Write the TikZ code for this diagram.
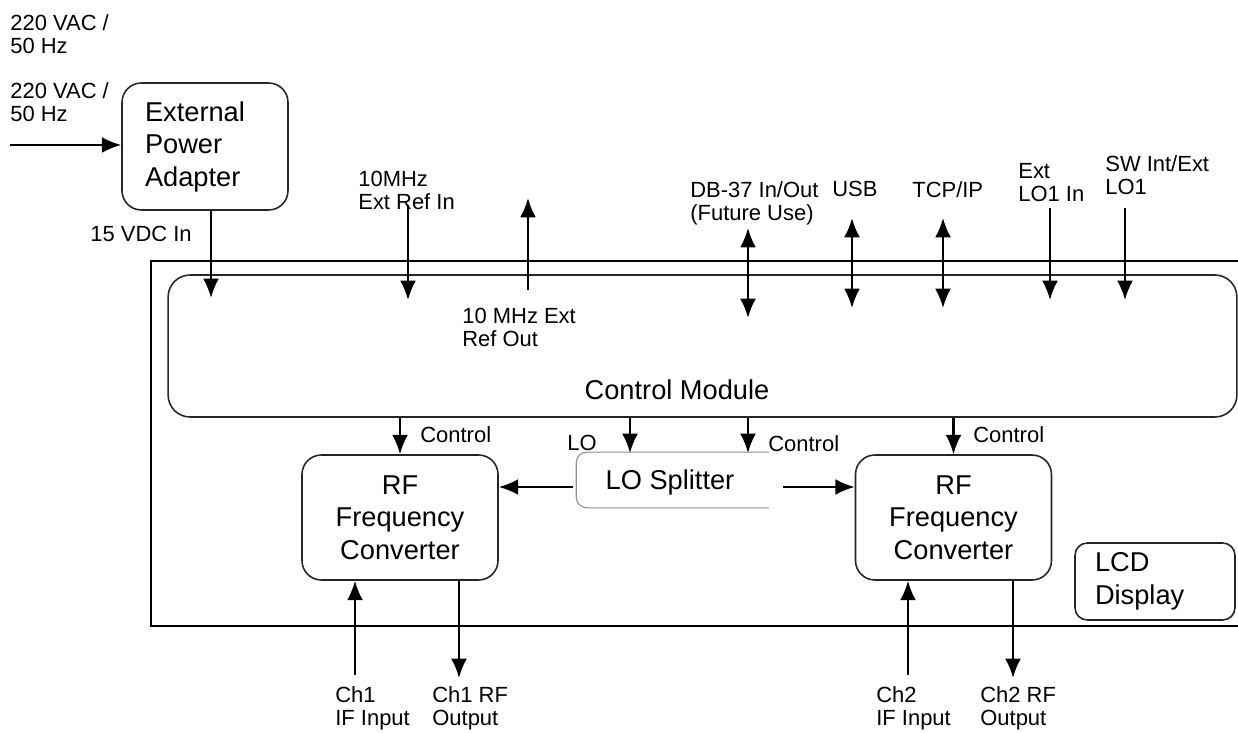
\documentclass[tikz,border=0pt]{standalone}
\usepackage{fontspec}
\setmainfont{Liberation Sans}
\usepackage{tikz}
\usetikzlibrary{arrows.meta,positioning}
\tikzstyle{block} = [rectangle, rounded corners=11pt, draw=black!85, line width=0.9pt, align=center, font=\fontsize{15.5}{18.5}\selectfont, inner sep=0pt]
\tikzstyle{textonly} = [draw=none, fill=none, anchor=north west, align=left, inner sep=0pt, font=\fontsize{12.5}{13}\selectfont]
\tikzstyle{tedge}  = [draw, line width=1.2pt, >={Latex[length=11pt,width=9pt]}, ->]
\tikzstyle{biedge} = [tedge, <->]
\tikzstyle{chassis} = [draw, line width=1.1pt]
\tikzstyle{openbox} = [draw=black!45, line width=0.6pt, rounded corners=6pt]

\begin{document}
\begin{tikzpicture}[x=0.02cm, y=-0.02cm]
\useasboundingbox (0,0) rectangle (1238,733);

% chassis =============================
\draw[chassis] (1238,261) -- (151,261) -- (151,626) -- (1238,626);

% blocks
\node[block, minimum width=3.32cm, minimum height=2.54cm, text width=2.4cm, inner xsep=0.46cm, align=left] (epa) at (205,146.5) {External\\Power\\Adapter};
\node[block, rounded corners=12.5pt, minimum width=21.38cm, minimum height=2.84cm] (cm) at (702.5,346) {};
\node[block, draw=none] (cmtext) at (677,390) {Control Module};
\node[block, minimum width=3.92cm, minimum height=2.5cm] (rf1) at (400,517.5) {RF\\Frequency\\Converter};
\node[block, minimum width=3.92cm, minimum height=2.5cm] (rf2) at (953.5,517.5) {RF\\Frequency\\Converter};
\node[block, draw=none, minimum width=3.82cm, minimum height=1.08cm] (lo) at (672.5,480) {};
\node[block, draw=none] (lotext) at (670,482) {LO Splitter};
\node[block, rounded corners=7pt, minimum width=3.2cm, minimum height=1.54cm, text width=2.4cm, inner xsep=0.4cm, align=left] (lcd) at (1155,581.5) {LCD\\Display};

% the splitter box is open on its right
\draw[openbox] (lo.north east) -- (lo.north west) -- (lo.south west) -- (lo.south east);

% labels
\node[textonly] (ac1) at (10,14) {220 VAC /\\50 Hz};
\node[textonly] (ac2) at (10,82) {220 VAC /\\50 Hz};
\node[textonly] (vdc) at (90,226) {15 VDC In};
\node[textonly] (refin) at (358,171) {10MHz\\Ext Ref In};
\node[textonly] (refout) at (462,308) {10 MHz Ext\\Ref Out};
\node[textonly] (db37) at (690,181) {DB-37 In/Out\\(Future Use)};
\node[textonly] (usb) at (832,181) {USB};
\node[textonly] (tcp) at (912,181) {TCP/IP};
\node[textonly] (lo1in) at (1018,163) {Ext\\LO1 In};
\node[textonly] (swlo) at (1105,155) {SW Int/Ext\\LO1};
\node[textonly] (ctl1) at (420,426) {Control};
\node[textonly] (lotxt) at (567,435) {LO};
\node[textonly] (ctl2) at (768,435) {Control};
\node[textonly] (ctl3) at (973,426) {Control};
\node[textonly] (ch1if) at (335,686) {Ch1\\IF Input};
\node[textonly] (ch1rf) at (432,686) {Ch1 RF\\Output};
\node[textonly] (ch2if) at (876,686) {Ch2\\IF Input};
\node[textonly] (ch2rf) at (980,686) {Ch2 RF\\Output};

% edges =============================

% power
\coordinate (acin) at (10,145);
\coordinate (dcin) at (211,298);
\path[tedge] (acin) -- (acin -| epa.west);
\path[tedge] (epa.south -| dcin) -- (dcin);

% into the control module
\foreach \name/\x/\ya/\yb in {refin/408/205/300, lo1in/1050/208/300, swlo/1125/208/300, refout/528/290/198}{
  \coordinate (\name-s) at (\x,\ya);
  \coordinate (\name-e) at (\x,\yb);
  \path[tedge] (\name-s) -- (\name-e);
}

% in and out of the control module
\foreach \name/\x/\ya/\yb in {db37/748/228/318, usb/852/218/308, tcp/943/218/308}{
  \coordinate (\name-s) at (\x,\ya);
  \coordinate (\name-e) at (\x,\yb);
  \path[biedge] (\name-s) -- (\name-e);
}

% control module to converters and splitter
\coordinate (lotap) at (630,453);
\coordinate (ctltap) at (748,453);
\path[tedge] (cm.south -| rf1.north) -- (rf1.north);
\path[tedge] (cm.south -| rf2.north) -- (rf2.north);
\path[tedge] (cm.south -| lotap) -- (lotap);
\path[tedge] (cm.south -| ctltap) -- (ctltap);

% splitter outputs
\coordinate (loL) at (573,487);
\coordinate (loR) at (783,487);
\path[tedge] (loL) -- (loL -| rf1.east);
\path[tedge] (loR) -- (loR -| rf2.west);

% channel inputs and outputs
\coordinate (ch1in) at (355,675);
\coordinate (ch1out) at (459,678);
\coordinate (ch2in) at (908,675);
\coordinate (ch2out) at (1013,678);
\path[tedge] (ch1in) -- (ch1in |- rf1.south);
\path[tedge] (rf1.south -| ch1out) -- (ch1out);
\path[tedge] (ch2in) -- (ch2in |- rf2.south);
\path[tedge] (rf2.south -| ch2out) -- (ch2out);

\end{tikzpicture}
\end{document}
